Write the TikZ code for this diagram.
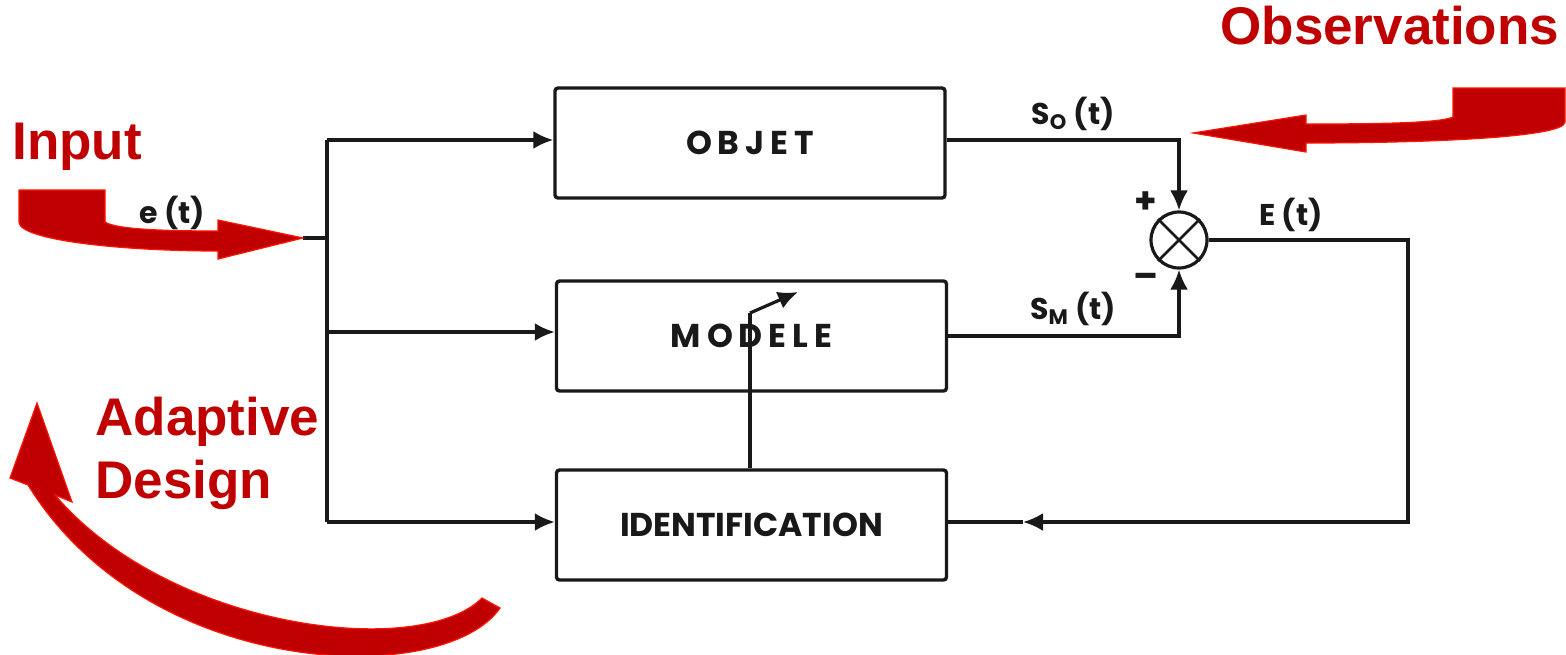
\documentclass[tikz,border=0pt]{standalone}
\usepackage{fontspec}
\usetikzlibrary{arrows.meta}
\newfontfamily\redfont{Liberation Sans}
\newfontfamily\boxfont{Poppins}
\newfontfamily\boxwide{Poppins}[LetterSpace=18]
\definecolor{arrowred}{RGB}{192,0,0}
\definecolor{edgered}{RGB}{255,20,0}
\definecolor{ink}{RGB}{25,25,25}
\tikzset{
  blockbox/.style={draw=ink, line width=1.7pt, rounded corners=1.5pt, minimum width=195pt, minimum height=55pt, inner sep=0pt, text=ink, font=\boxfont\bfseries\fontsize{16.5}{18}\selectfont},
  wire/.style={draw=ink, line width=1.6pt},
  arr/.style={-{Latex[length=10pt,width=9pt]}},
  redarrow/.style={fill=arrowred, draw=edgered, line width=0.6pt, line join=miter},
  redlabel/.style={text=arrowred, font=\redfont\bfseries\fontsize{26.5}{30}\selectfont, inner sep=0pt, anchor=base west},
  siglabel/.style={font=\boxfont\bfseries\fontsize{15}{17}\selectfont, inner sep=0pt, text=ink}
}
\begin{document}
\begin{tikzpicture}[x=0.5pt,y=-0.5pt]
\fill[white] (0,0) rectangle (1566,654);
\useasboundingbox (0,0) rectangle (1566,654);

% blocks
\node[blockbox] (obj) at (750,143) {\boxwide\bfseries OBJET};
\node[blockbox] (mod) at (751.5,336) {\boxwide\bfseries MODELE};
\node[blockbox] (idt) at (751.5,525) {IDENTIFICATION};
\node[circle, draw=ink, line width=1.6pt, minimum size=28pt, inner sep=0pt] (sum) at (1179,240) {};
\draw[wire, line width=1.3pt] (sum.north west) -- (sum.south east) (sum.north east) -- (sum.south west);

% input bus
\coordinate (intip) at (303,238);
\coordinate (jin) at (327,238);
\coordinate (bt) at (327,140);
\coordinate (bm) at (327,332);
\coordinate (bb) at (327,522);
\draw[wire] (intip) -- (jin);
\draw[wire] (bt) -- (bb);
\draw[wire,arr] (bt) -- (bt -| obj.west);
\draw[wire,arr] (bm) -- (bm -| mod.west);
\draw[wire,arr] (bb) -- (bb -| idt.west);

% outputs to comparator
\draw[wire,arr] (obj.east |- bt) -| (sum.north);
\draw[wire,arr] (mod.east) -| (sum.south);

% error feedback
\coordinate (r1) at (1408,240);
\coordinate (r2) at (1408,522);
\coordinate (fb) at (1023,522);
\draw[wire,arr] (sum.east) -- (r1) -- (r2) -- (fb);
\draw[wire] (fb) -- (fb -| idt.east);

% adjustment arrow
\coordinate (k) at (750,313);
\coordinate (kt) at (798,292);
\draw[wire] (k |- idt.north) -- (k);
\draw[wire,arr] (k) -- (kt);

% signal labels
\node[siglabel] (so) at (1073,114) {S\textsubscript{O}\ (t)};
\node[siglabel] (sm) at (1073,309) {S\textsubscript{M}\ (t)};
\node[siglabel] (et) at (1291,215) {E\ (t)};
\node[siglabel] (ein) at (172,213) {e\ (t)};
\node[siglabel, font=\boxfont\bfseries\fontsize{18}{20}\selectfont] (plus) at (1146,203) {+};
\node[siglabel, font=\boxfont\bfseries\fontsize{18}{20}\selectfont] (minus) at (1146,281) {–};

% red arrows
\path[redarrow] (19,190) -- (105,190) -- (105,222) .. controls (115,229) and (160,231) .. (218,231) -- (218,220) -- (intip) -- (218,259) -- (218,251) .. controls (120,251) and (19,240) .. (19,222) -- cycle;
\path[redarrow] (1565,88) -- (1453,88) -- (1453,117) .. controls (1440,123) and (1380,124) .. (1306,124) -- (1306,115) -- (1193,133) -- (1306,152) -- (1306,143) .. controls (1420,143) and (1565,138) .. (1565,122) -- cycle;
\path[redarrow] (482,598) .. controls (420,660) and (170,630) .. (55,495) -- (72,502) -- (37,403) -- (10,478) -- (28,485) .. controls (150,682) and (445,688) .. (500,608) -- cycle;

% red labels
\node[redlabel] (inp) at (12,159) {Input};
\node[redlabel] (obs) at (1220,44) {Observations};
\node[redlabel] (ad1) at (95,435) {Adaptive};
\node[redlabel] (ad2) at (95,498) {Design};
\end{tikzpicture}
\end{document}
